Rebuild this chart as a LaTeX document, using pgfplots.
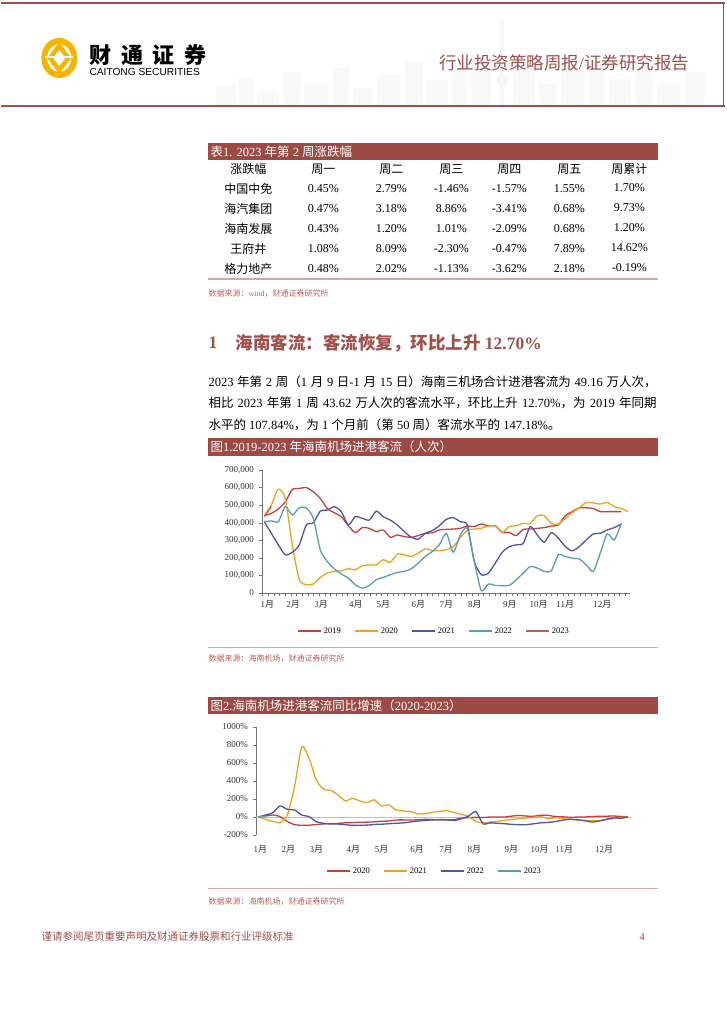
\documentclass[border=0pt]{standalone}
\usepackage{pgfplots}
\pgfplotsset{compat=1.18}
\usepackage{pgfplotstable}
\usepackage{fontspec}
\setmainfont{Liberation Serif}
\setsansfont{Liberation Sans}
\newfontfamily\cjk{Noto Sans CJK SC}

% switch to the CJK font automatically for Chinese characters
\XeTeXinterchartokenstate=1
\newXeTeXintercharclass\zhclass
\newcount\zhc
\def\setzh#1#2{\zhc=#1\relax\loop\XeTeXcharclass\zhc=\zhclass\ifnum\zhc<#2\relax\advance\zhc by 1\repeat}
\setzh{"4E00}{"9FFF}
\setzh{"3000}{"303F}
\setzh{"FF00}{"FFEF}
\XeTeXinterchartoks 0 \zhclass={\cjk}
\XeTeXinterchartoks 4095 \zhclass={\cjk}
\XeTeXinterchartoks \zhclass 0={\rmfamily}
\XeTeXinterchartoks \zhclass 4095={\rmfamily}

\newcommand\fs[1]{\fontsize{#1}{#1}\selectfont}

\definecolor{hdr}{HTML}{A0504B}
\definecolor{bar}{HTML}{9D4A45}
\definecolor{src}{HTML}{B8625C}
\definecolor{tline}{HTML}{D9A7A2}
\definecolor{logo}{HTML}{F4B400}
\definecolor{r19}{HTML}{C4413D}
\definecolor{o20}{HTML}{EBA320}
\definecolor{b21}{HTML}{4E57A0}
\definecolor{t22}{HTML}{5B9DB5}
\definecolor{r23}{HTML}{BF5A55}

% weekly inbound passengers (persons)
\pgfplotstableread{
w a19 a20 a21 a22
0 440000 440000 406000 406000
1 453000 500000 340000 410000
2 478000 591000 274000 406000
3 519000 538000 217000 491000
4 589000 274000 232000 444000
5 595000 76000 274000 485000
6 600000 47000 387000 485000
7 576000 51000 400000 425000
8 538000 89000 466000 245000
9 481000 113000 472000 179000
10 457000 123000 491000 138000
11 434000 126000 463000 108000
12 383000 138000 387000 85000
13 344000 132000 434000 47000
14 372000 155000 425000 28000
15 368000 160000 415000 43000
16 349000 160000 466000 76000
17 359000 189000 434000 89000
18 317000 174000 415000 104000
19 330000 221000 387000 117000
20 321000 217000 349000 123000
21 317000 208000 317000 138000
22 327000 227000 306000 170000
23 340000 251000 340000 208000
24 342000 242000 355000 236000
25 359000 240000 383000 274000
26 362000 247000 419000 340000
27 364000 264000 429000 232000
28 368000 315000 406000 330000
29 381000 357000 387000 368000
30 378000 364000 179000 179000
31 393000 368000 104000 13000
32 381000 381000 113000 51000
33 383000 381000 170000 43000
34 345000 344000 232000 42000
35 344000 378000 264000 43000
36 327000 383000 274000 76000
37 362000 396000 283000 113000
38 364000 396000 378000 151000
39 368000 440000 330000 142000
40 372000 440000 289000 123000
41 381000 396000 344000 126000
42 387000 391000 312000 217000
43 440000 425000 264000 208000
44 463000 457000 240000 198000
45 485000 485000 264000 194000
46 485000 515000 302000 160000
47 481000 513000 336000 123000
48 463000 506000 340000 227000
49 463000 515000 359000 336000
50 463000 491000 372000 302000
51 463000 481000 393000 396000
52 nan 463000 nan nan
}\flow

% year-on-year growth (%)
\pgfplotstableread{
w b20 b21 b22
0 0 0 0
1 11 -26 22
2 22 -48 48
3 4 -63 123
4 -50 22 85
5 -85 338 78
6 -92 780 22
7 -91 654 4
8 -84 413 -52
9 -77 309 -70
10 -73 294 -78
11 -71 245 -78
12 -64 178 -85
13 -62 208 -93
14 -58 178 -92
15 -57 160 -90
16 -54 190 -83
17 -47 123 -80
18 -45 134 -75
19 -33 78 -70
20 -32 67 -65
21 -34 60 -55
22 -31 33 -45
23 -26 37 -38
24 -29 52 -33
25 -33 63 -28
26 -32 71 -30
27 -28 50 -40
28 -14 30 -20
29 -6 5 10
30 -4 -50 60
31 -6 -65 -75
32 0 -56 -65
33 0 -48 -70
34 0 -37 -75
35 10 -26 -82
36 17 -19 -85
37 10 -11 -85
38 9 -4 -75
39 20 4 -65
40 18 -19 -60
41 4 -7 -50
42 2 -19 -35
43 -3 -26 -25
44 -1 -33 -30
45 0 -41 -40
46 6 -41 -55
47 7 -41 -45
48 9 -30 -25
49 11 -19 -10
50 6 -7 -15
51 4 0 0
}\yoy

\pgfplotsset{
  rpt/.style={
    scale only axis, at={(0pt,0pt)},
    /pgf/number format/assume math mode=true,
    ticklabel style={font=\fs{9}, text=black!80},
    yticklabel style={xshift=-2pt},
    legend columns=5,
    legend style={draw=none, fill=none, font=\fs{8.5},
      /tikz/every even column/.append style={column sep=11pt}},
    legend image code/.code={\draw[##1, line width=2pt] (0pt,0pt) -- (23pt,0pt);},
    every axis plot/.append style={line width=1.3pt, smooth, tension=0.4, no markers},
  }
}

\begin{document}
\begin{tikzpicture}[x=1pt,y=1pt]
\fill[white] (0,0) rectangle (724,1024);

% ---- header ----
\foreach \x/\w/\t in {215/20/85,238/15/78,256/22/90,282/18/72,303/25/82,332/16/68,352/20/88,376/24/75,404/18/62,425/22/80,450/16/70,470/20/58,512/22/66,538/18/84,560/24/70,588/16/64,608/22/78,634/18/70,656/24/82,684/20/72}
  \fill[gray!5] (\x,919) rectangle ({\x+\w},{1024-\t});
\fill[gray!7] (499,919) rectangle (503,1004);
\fill[gray!7] (501,964) circle (5);
\fill[gray!7] (501,944) circle (6);
\draw[hdr, line width=2.2pt] (0,1021) -- (724,1021);
\draw[hdr, line width=1.2pt] (722,1021) -- (722,918);
\draw[hdr, line width=2.6pt] (0,918) -- (724,918);

% logo
\fill[logo] (58,966) ellipse (18 and 20);
\fill[white] (58,966) ellipse (12 and 14);
\fill[logo] (58,982) -- (70,966) -- (58,950) -- (46,966) -- cycle;
\fill[white] (58,974) -- (64,966) -- (58,958) -- (52,966) -- cycle;
\fill[white] (44,966) rectangle (72,967.5);
\node[anchor=west, inner sep=0] at (88,969) {\fs{22}\bfseries\hbox to 117pt{财\hfill 通\hfill 证\hfill 券}};
\node[anchor=west, inner sep=0] at (88,952) {\sffamily\fs{10.2}CAITONG SECURITIES};
\node[anchor=east, inner sep=0, text=hdr] at (688,961) {\fs{17.5}行业投资策略周报/证券研究报告};

% ---- table ----
\fill[bar] (207,864) rectangle (657,881);
\node[anchor=west, inner sep=0, text=white] at (209,872.5) {\fs{12.5}表1. 2023 年第 2 周涨跌幅};
\begin{scope}[every node/.style={inner sep=0, font=\fs{12}}]
\node at (247,855) {涨跌幅}; \node at (322,855) {周一}; \node at (390,855) {周二};
\node at (450,855) {周三}; \node at (508,855) {周四}; \node at (568,855) {周五};
\node at (628,855) {周累计};
\node at (247,835) {中国中免}; \node at (322,835) {0.45\%}; \node at (390,835) {2.79\%};
\node at (450,835) {-1.46\%}; \node at (508,835) {-1.57\%}; \node at (568,835) {1.55\%};
\node at (628,836) {1.70\%};
\node at (247,815) {海汽集团}; \node at (322,815) {0.47\%}; \node at (390,815) {3.18\%};
\node at (450,815) {8.86\%}; \node at (508,815) {-3.41\%}; \node at (568,815) {0.68\%};
\node at (628,816) {9.73\%};
\node at (247,795) {海南发展}; \node at (322,795) {0.43\%}; \node at (390,795) {1.20\%};
\node at (450,795) {1.01\%}; \node at (508,795) {-2.09\%}; \node at (568,795) {0.68\%};
\node at (628,796) {1.20\%};
\node at (247,775) {王府井}; \node at (322,775) {1.08\%}; \node at (390,775) {8.09\%};
\node at (450,775) {-2.30\%}; \node at (508,775) {-0.47\%}; \node at (568,775) {7.89\%};
\node at (628,776) {14.62\%};
\node at (247,755) {格力地产}; \node at (322,755) {0.48\%}; \node at (390,755) {2.02\%};
\node at (450,755) {-1.13\%}; \node at (508,755) {-3.62\%}; \node at (568,755) {2.18\%};
\node at (628,756) {-0.19\%};
\end{scope}
\draw[tline, line width=1.5pt] (207,745) -- (657,745);
\node[anchor=west, inner sep=0, text=src] at (207,730) {\fs{8}数据来源：wind，财通证券研究所};

% ---- section ----
\node[anchor=west, inner sep=0, text=hdr] at (207,681) {\fs{17.5}\bfseries 1};
\node[anchor=west, inner sep=0, text=hdr] at (234,681) {\fs{17.5}\bfseries 海南客流：客流恢复，环比上升 12.70\%};
\node[anchor=west, inner sep=0] at (207,642) {\fs{12.5}\makebox[448pt][s]{2023 年第 2 周（1 月 9 日-1 月 15 日）海南三机场合计进港客流为 49.16 万人次，}};
\node[anchor=west, inner sep=0] at (207,621) {\fs{12.5}\makebox[448pt][s]{相比 2023 年第 1 周 43.62 万人次的客流水平，环比上升 12.70\%，为 2019 年同期}};
\node[anchor=west, inner sep=0] at (207,599) {\fs{12.5}水平的 107.84\%，为 1 个月前（第 50 周）客流水平的 147.18\%。};

% ---- figure 1 ----
\fill[bar] (207,568) rectangle (657,586);
\node[anchor=west, inner sep=0, text=white] at (209,577) {\fs{12.5}图1.2019-2023 年海南机场进港客流（人次）};

\begin{scope}[shift={(261pt,431pt)}]
\begin{axis}[rpt, anchor=south west,
  width=368pt, height=123pt,
  xmin=-0.286, xmax=52.29, ymin=0, ymax=700000,
  axis x line*=bottom, axis y line*=left,
  axis line style={black!55, -}, tick style={black!55},
  tick align=outside, major tick length=3pt,
  xtick={-0.286,0.524,...,52.3}, xticklabels={},
  extra x ticks={0.43,4.1,8.1,13.1,17,22,26,30.1,35.1,39.2,43,48.3},
  extra x tick labels={1月,2月,3月,4月,5月,6月,7月,8月,9月,10月,11月,12月},
  extra x tick style={major tick length=0pt, xticklabel style={yshift=-4pt}},
  ytick={0,100000,...,700000}, scaled y ticks=false,
  yticklabel style={/pgf/number format/fixed, /pgf/number format/1000 sep={,}},
  legend style={at={(0.466,-0.309)}, anchor=center},
]
\addplot[r19] table[x=w, y=a19] {\flow};
\addplot[o20] table[x=w, y=a20] {\flow};
\addplot[b21] table[x=w, y=a21] {\flow};
\addplot[t22] table[x=w, y=a22] {\flow};
\addplot[r23] coordinates {(0,436200) (1,491600)};
\legend{2019,2020,2021,2022,2023}
\end{axis}
\end{scope}
\draw[tline, line width=1pt] (207,376) -- (657,376);
\node[anchor=west, inner sep=0, text=src] at (207,365) {\fs{8}数据来源：海南机场，财通证券研究所};

% ---- figure 2 ----
\fill[bar] (207,310) rectangle (657,327);
\node[anchor=west, inner sep=0, text=white] at (209,318.5) {\fs{12.5}图2.海南机场进港客流同比增速（2020-2023）};

\begin{scope}[shift={(255pt,189pt)}]
\begin{axis}[rpt, anchor=south west,
  width=375pt, height=108pt,
  xmin=-0.276, xmax=51.45, ymin=-200, ymax=1000,
  axis x line*=bottom, axis y line*=left,
  x axis line style={draw=none}, y axis line style={black!55, -},
  tick align=outside, major tick length=3pt,
  xtick={0.28,4.14,8,13.1,17,21.9,25.9,29.8,34.9,38.8,42.2,47.7},
  xticklabels={1月,2月,3月,4月,5月,6月,7月,8月,9月,10月,11月,12月},
  xtick style={draw=none}, ytick style={black!55},
  xticklabel style={yshift=-4pt},
  ytick={-200,0,...,1000},
  yticklabel={\pgfmathprintnumber[1000 sep={}]{\tick}\%},
  extra y ticks={0}, extra y tick labels={},
  extra y tick style={grid=major, major grid style={black!25, line width=0.9pt}},
  legend style={at={(0.475,-0.333)}, anchor=center},
]
\addplot[r19] table[x=w, y=b20] {\yoy};
\addplot[o20] table[x=w, y=b21] {\yoy};
\addplot[b21] table[x=w, y=b22] {\yoy};
\addplot[t22] coordinates {(0,3) (1,8)};
\legend{2020,2021,2022,2023}
\end{axis}
\end{scope}
\draw[tline, line width=1pt] (207,135) -- (657,135);
\node[anchor=west, inner sep=0, text=src] at (207,122) {\fs{8}数据来源：海南机场，财通证券研究所};

% ---- footer ----
\node[anchor=west, inner sep=0, text=hdr] at (40,87) {\fs{10.5}谨请参阅尾页重要声明及财通证券股票和行业评级标准};
\node[anchor=west, inner sep=0, text=hdr] at (638,87) {\fs{10.5}4};
\end{tikzpicture}
\end{document}
